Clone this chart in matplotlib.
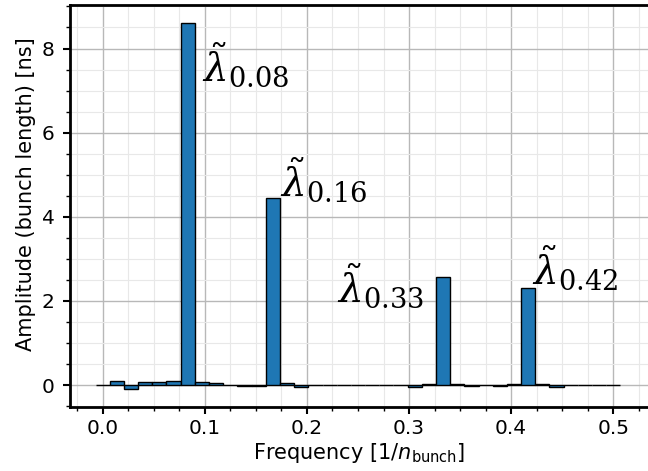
import matplotlib
matplotlib.use("Agg")
import matplotlib.pyplot as plt
import numpy as np
from matplotlib.ticker import MultipleLocator

n_bunch = 72
harmonics = list(range(0, 37))
amplitudes = [0.0, 0.10, -0.10, 0.07, 0.08, 0.10, 8.60, 0.07, 0.04, 0.0,
              -0.02, -0.03, 4.45, 0.05, -0.04, 0.01, 0.01, 0.01, 0.0, 0.01,
              0.01, 0.01, -0.04, 0.03, 2.57, 0.03, -0.02, 0.0, -0.02, 0.02,
              2.30, 0.02, -0.04, 0.01, 0.01, 0.01, 0.0]
freqs = [k / n_bunch for k in harmonics]

peak_labels = [r"$\tilde{\lambda}_{0.08}$", r"$\tilde{\lambda}_{0.16}$",
               r"$\tilde{\lambda}_{0.33}$", r"$\tilde{\lambda}_{0.42}$"]
label_x = [0.097, 0.174, 0.229, 0.420]
label_y = [7.20, 4.47, 1.95, 2.38]

fig = plt.figure(figsize=(6.48, 4.71), dpi=100)
ax = fig.add_axes([0.108, 0.136, 0.892, 0.853])

ax.bar(freqs, amplitudes, width=1 / n_bunch, color="#1f77b4",
       edgecolor="black", linewidth=1.0, zorder=3)

for t, x, y in zip(peak_labels, label_x, label_y):
    ax.text(x, y, t, fontsize=28, ha="left", va="baseline", zorder=4,
            math_fontfamily="dejavuserif")

ax.set_xlim(-0.032, 0.534)
ax.set_ylim(-0.52, 9.03)
ax.xaxis.set_major_locator(MultipleLocator(0.1))
ax.xaxis.set_minor_locator(MultipleLocator(0.025))
ax.yaxis.set_major_locator(MultipleLocator(2))
ax.yaxis.set_minor_locator(MultipleLocator(0.5))
ax.grid(which="major", color="#b8b8b8", linewidth=1.0, zorder=0)
ax.grid(which="minor", color="#e8e8e8", linewidth=0.8, zorder=0)
ax.set_axisbelow(True)

for s in ["left", "bottom", "top"]:
    ax.spines[s].set_linewidth(2.0)
ax.spines["right"].set_visible(False)
ax.tick_params(which="major", direction="out", length=5, width=1.5, labelsize=14.5)
ax.tick_params(which="minor", direction="out", length=3, width=1.0)
ax.tick_params(axis="y", which="major", pad=6)

ax.set_xlabel(r"Frequency [1/$n_{\mathrm{bunch}}$]", fontsize=15, labelpad=2,
              math_fontfamily="dejavusans")
ax.set_ylabel("Amplitude (bunch length) [ns]", fontsize=15)
ax.yaxis.set_label_coords(-0.059, 0.53)

fig.savefig("out.png", dpi=100)
